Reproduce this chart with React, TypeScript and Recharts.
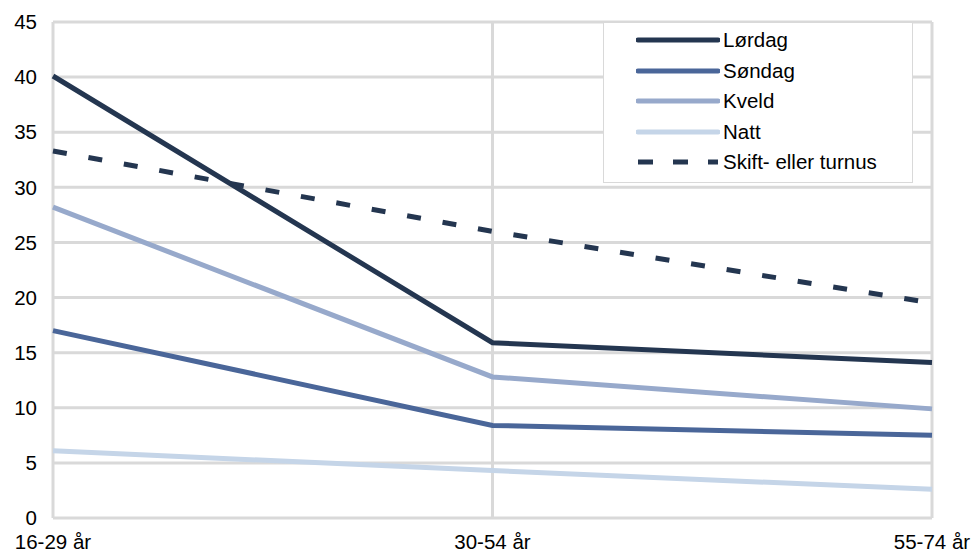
import React from 'react';
import { LineChart, Line, XAxis, YAxis, CartesianGrid } from 'recharts';

const categories = ['16-29 år', '30-54 år', '55-74 år'];
const lordag = [40.1, 15.9, 14.1];
const sondag = [17.0, 8.4, 7.5];
const kveld = [28.2, 12.8, 9.9];
const natt = [6.1, 4.3, 2.6];
const skift = [33.3, 26.0, 19.5];
const yTicks = [0, 5, 10, 15, 20, 25, 30, 35, 40, 45];

const seriesDefs = [
  { key: 'Lørdag', values: lordag, color: '#243650', dash: undefined as string | undefined },
  { key: 'Søndag', values: sondag, color: '#4a6699', dash: undefined },
  { key: 'Kveld', values: kveld, color: '#97a9cb', dash: undefined },
  { key: 'Natt', values: natt, color: '#c5d5e8', dash: undefined },
  { key: 'Skift- eller turnus', values: skift, color: '#243650', dash: '14 22' },
];

const data = categories.map((c, i) => {
  const row: Record<string, string | number> = { name: c };
  seriesDefs.forEach((s) => {
    row[s.key] = s.values[i];
  });
  return row;
});

const FONT = 'Liberation Sans, Arial, sans-serif';

const LegendBox = () => (
  <div
    style={{
      position: 'absolute',
      left: 603,
      top: 22,
      width: 310,
      height: 161,
      border: '1px solid #d9d9d9',
      background: '#fff',
      boxSizing: 'border-box',
      fontFamily: FONT,
      fontSize: 20.5,
      color: '#000',
    }}
  >
    {seriesDefs.map((s, i) => (
      <div
        key={s.key}
        style={{ position: 'absolute', left: 32, top: 4 + i * 30.5, height: 26, display: 'flex', alignItems: 'center' }}
      >
        <svg width={84} height={10} style={{ display: 'block' }}>
          <line
            x1={2}
            y1={5}
            x2={82}
            y2={5}
            stroke={s.color}
            strokeWidth={5}
            strokeLinecap={s.dash ? 'butt' : 'round'}
            strokeDasharray={s.dash ? '15 20' : undefined}
          />
        </svg>
        <span style={{ marginLeft: 3, whiteSpace: 'nowrap', lineHeight: '26px' }}>{s.key}</span>
      </div>
    ))}
  </div>
);

export default function App() {
  return (
    <div style={{ position: 'absolute', left: 0, top: 0, width: 975, height: 553, background: '#fff' }}>
      <LineChart width={975} height={553} data={data} margin={{ top: 22, right: 43, left: 0, bottom: 0 }}>
        <CartesianGrid stroke="#d9d9d9" strokeWidth={3} vertical={true} horizontal={true} />
        <XAxis
          dataKey="name"
          height={35}
          axisLine={false}
          tickLine={false}
          tickSize={0}
          tickMargin={16}
          interval={0}
          tick={{ fill: '#000', fontSize: 20.5, fontFamily: FONT }}
        />
        <YAxis
          width={53}
          domain={[0, 45]}
          ticks={yTicks}
          axisLine={false}
          tickLine={false}
          tickSize={0}
          tickMargin={16}
          interval={0}
          tick={{ fill: '#000', fontSize: 20.5, fontFamily: FONT }}
        />
        {seriesDefs.map((s) => (
          <Line
            key={s.key}
            type="linear"
            dataKey={s.key}
            stroke={s.color}
            strokeWidth={5}
            strokeDasharray={s.dash}
            dot={false}
            activeDot={false}
            isAnimationActive={false}
          />
        ))}
      </LineChart>
      <LegendBox />
    </div>
  );
}
